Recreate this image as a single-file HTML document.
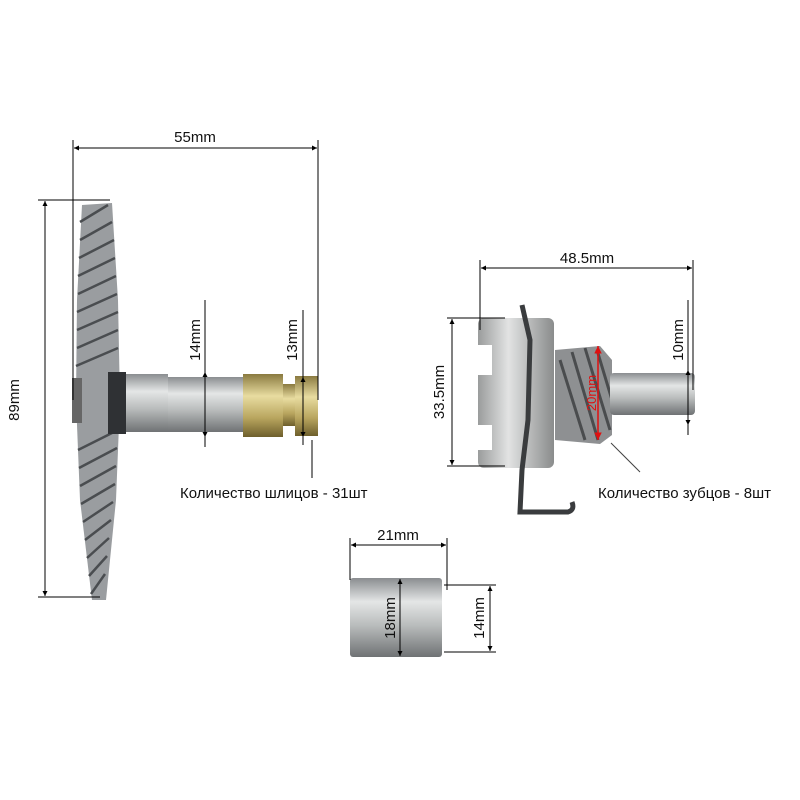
<!DOCTYPE html>
<html><head><meta charset="utf-8"><style>body{margin:0;background:#fff}svg{display:block}</style></head><body>
<svg width="800" height="800" viewBox="0 0 800 800" xmlns="http://www.w3.org/2000/svg" font-family="Liberation Sans, sans-serif">
<defs>
<linearGradient id="gs" x1="0" y1="0" x2="0" y2="1"><stop offset="0" stop-color="#8a8d90"/><stop offset=".3" stop-color="#e4e6e6"/><stop offset=".6" stop-color="#b9bcbc"/><stop offset="1" stop-color="#6f7274"/></linearGradient>
<linearGradient id="gg" x1="0" y1="0" x2="0" y2="1"><stop offset="0" stop-color="#8a7a40"/><stop offset=".35" stop-color="#e8dca0"/><stop offset=".7" stop-color="#b8a55e"/><stop offset="1" stop-color="#6e5f2c"/></linearGradient>
<linearGradient id="gh" x1="0" y1="0" x2="1" y2="0"><stop offset="0" stop-color="#9a9c9c"/><stop offset=".4" stop-color="#e2e3e3"/><stop offset="1" stop-color="#8a8c8c"/></linearGradient>
<marker id="a" viewBox="0 0 10 10" refX="10" refY="5" markerWidth="5" markerHeight="5" orient="auto-start-reverse"><path d="M0 0L10 5L0 10z" fill="#000"/></marker>
<marker id="r" viewBox="0 0 10 10" refX="10" refY="5" markerWidth="5" markerHeight="5" orient="auto-start-reverse"><path d="M0 0L10 5L0 10z" fill="#e01010"/></marker>
</defs>
<path d="M82 205 L112 203 L118 300 L120 400 L116 500 L106 600 L92 600 L80 500 L76 400 L77 300Z" fill="#9a9da0"/>
<g stroke="#4a4d50" stroke-width="2.5">
<path d="M80 222 L108 205 M80 240 L112 222 M79 258 L114 240 M78 276 L115 258 M78 294 L116 276 M77 312 L117 294 M77 330 L118 312 M77 348 L118 330 M76 366 L118 348 M78 450 L118 430 M79 468 L117 448 M80 486 L116 466 M81 504 L115 484 M83 522 L113 502 M85 540 L111 520 M87 558 L109 538 M89 576 L107 556 M91 594 L105 574"/>
</g>
<rect x="72" y="378" width="10" height="45" fill="#666"/>
<rect x="108" y="372" width="18" height="62" fill="#2f3134"/>
<rect x="126" y="374" width="42" height="58" fill="url(#gs)"/>
<rect x="168" y="377" width="75" height="55" fill="url(#gs)"/>
<rect x="243" y="374" width="40" height="63" fill="url(#gg)"/>
<rect x="283" y="384" width="12" height="42" fill="url(#gg)"/>
<rect x="295" y="376" width="23" height="60" fill="url(#gg)"/>
<g stroke="#000" stroke-width="1" fill="none">
<line x1="73" y1="140" x2="73" y2="400"/><line x1="318" y1="140" x2="318" y2="400"/>
<line x1="74" y1="148" x2="317" y2="148" marker-start="url(#a)" marker-end="url(#a)"/>
<line x1="38" y1="200" x2="110" y2="200"/><line x1="38" y1="597" x2="100" y2="597"/>
<line x1="45" y1="201" x2="45" y2="596" marker-start="url(#a)" marker-end="url(#a)"/>
<line x1="205" y1="300" x2="205" y2="372" /><line x1="205" y1="372" x2="205" y2="437" marker-start="url(#a)" marker-end="url(#a)"/><line x1="205" y1="437" x2="205" y2="447"/>
<line x1="303" y1="310" x2="303" y2="377"/><line x1="303" y1="377" x2="303" y2="437" marker-start="url(#a)" marker-end="url(#a)"/><line x1="303" y1="437" x2="303" y2="445"/>
<line x1="312" y1="440" x2="312" y2="478"/>
</g>
<g font-size="15" fill="#111">
<text x="195" y="142" text-anchor="middle">55mm</text>
<text transform="translate(19 400) rotate(-90)" text-anchor="middle">89mm</text>
<text transform="translate(200 340) rotate(-90)" text-anchor="middle">14mm</text>
<text transform="translate(297 340) rotate(-90)" text-anchor="middle">13mm</text>
<text x="180" y="498">Количество шлицов - 31шт</text>
</g>
<rect x="478" y="318" width="76" height="150" rx="6" fill="url(#gh)"/>
<rect x="478" y="345" width="14" height="30" fill="#fff"/><rect x="478" y="425" width="14" height="25" fill="#fff"/>
<path d="M555 350 L600 346 L612 360 L612 435 L600 444 L555 440Z" fill="#8e9092"/>
<g stroke="#4a4c4e" stroke-width="3"><path d="M560 360 L585 440 M572 352 L598 440 M585 348 L610 430 M597 350 L612 400"/></g>
<rect x="610" y="373" width="85" height="42" rx="4" fill="url(#gs)"/>
<path d="M522 305 L530 340 L528 420 L522 470 L520 512 L568 512 Q575 510 572 502" stroke="#3a3c3e" stroke-width="5" fill="none"/>
<line x1="598" y1="346" x2="598" y2="440" stroke="#e01010" stroke-width="1.5" marker-start="url(#r)" marker-end="url(#r)"/>
<text transform="translate(596 393) rotate(-90)" text-anchor="middle" font-size="13" fill="#e01010">20mm</text>
<g stroke="#000" stroke-width="1" fill="none">
<line x1="480" y1="260" x2="480" y2="330"/><line x1="693" y1="260" x2="693" y2="390"/>
<line x1="481" y1="268" x2="692" y2="268" marker-start="url(#a)" marker-end="url(#a)"/>
<line x1="447" y1="318" x2="505" y2="318"/><line x1="447" y1="466" x2="505" y2="466"/>
<line x1="452" y1="319" x2="452" y2="465" marker-start="url(#a)" marker-end="url(#a)"/>
<line x1="688" y1="300" x2="688" y2="370"/><line x1="688" y1="370" x2="688" y2="425" marker-start="url(#a)" marker-end="url(#a)"/><line x1="688" y1="425" x2="688" y2="435"/>
<line x1="611" y1="443" x2="640" y2="472" stroke="#444"/>
</g>
<g font-size="15" fill="#111">
<text x="587" y="263" text-anchor="middle">48.5mm</text>
<text transform="translate(444 392) rotate(-90)" text-anchor="middle">33.5mm</text>
<text transform="translate(683 340) rotate(-90)" text-anchor="middle">10mm</text>
<text x="598" y="498">Количество зубцов - 8шт</text>
</g>
<rect x="350" y="578" width="92" height="79" rx="3" fill="url(#gs)"/>
<g stroke="#000" stroke-width="1" fill="none">
<line x1="350" y1="538" x2="350" y2="580"/><line x1="447" y1="538" x2="447" y2="590"/>
<line x1="351" y1="545" x2="446" y2="545" marker-start="url(#a)" marker-end="url(#a)"/>
<line x1="400" y1="579" x2="400" y2="656" marker-start="url(#a)" marker-end="url(#a)"/>
<line x1="444" y1="585" x2="496" y2="585"/><line x1="444" y1="652" x2="496" y2="652"/>
<line x1="490" y1="586" x2="490" y2="651" marker-start="url(#a)" marker-end="url(#a)"/>
</g>
<g font-size="15" fill="#111">
<text x="398" y="540" text-anchor="middle">21mm</text>
<text transform="translate(395 618) rotate(-90)" text-anchor="middle">18mm</text>
<text transform="translate(484 618) rotate(-90)" text-anchor="middle">14mm</text>
</g>
</svg>
</body></html>
